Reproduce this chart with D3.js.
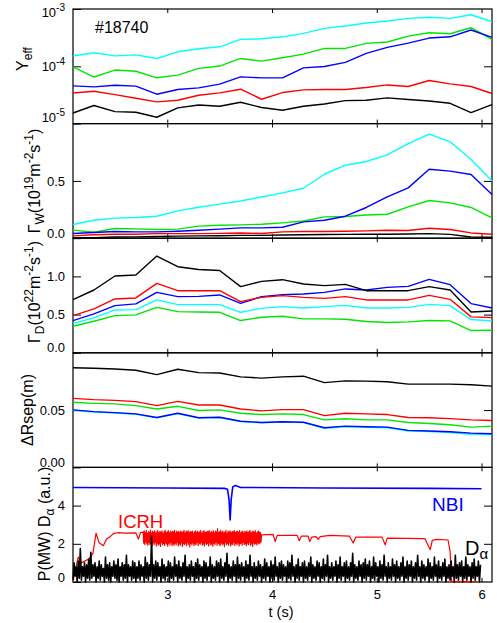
<!DOCTYPE html>
<html>
<head>
<meta charset="utf-8">
<script src="https://cdn.jsdelivr.net/npm/d3@7"></script>
<style>
  body { margin: 0; background: #fff; }
  text { font-family: "Liberation Sans", Arial, Helvetica, sans-serif; }
</style>
</head>
<body>
<div id="chart"></div>
<script>
// sample times for the profile quantities (s)
var times = [2.1, 2.3, 2.5, 2.7, 2.9, 3.1, 3.3, 3.5, 3.7, 3.9, 4.1, 4.3, 4.5, 4.7, 4.9, 5.1, 5.3, 5.5, 5.7, 5.9, 6.1];

// Y_eff
var yeffCyan  = [1.51e-4, 1.72e-4, 1.52e-4, 1.58e-4, 1.37e-4, 1.79e-4, 2.02e-4, 2.19e-4, 2.95e-4, 3.02e-4, 3.27e-4, 3.76e-4, 4.59e-4, 5.05e-4, 5.69e-4, 6.17e-4, 6.87e-4, 7.16e-4, 6.87e-4, 7.94e-4, 6.0e-4];
var yeffGreen = [9.8e-5, 6.5e-5, 8.6e-5, 8.2e-5, 6.3e-5, 7.0e-5, 9.2e-5, 1.01e-4, 1.37e-4, 1.23e-4, 1.41e-4, 1.63e-4, 2.05e-4, 2.05e-4, 2.51e-4, 2.65e-4, 3.37e-4, 3.85e-4, 3.70e-4, 4.71e-4, 2.95e-4];
var yeffBlue  = [4.55e-5, 4.37e-5, 4.68e-5, 4.5e-5, 3.26e-5, 3.94e-5, 4.2e-5, 4.88e-5, 6.53e-5, 6.28e-5, 6.28e-5, 9.4e-5, 9.9e-5, 1.17e-4, 1.68e-4, 2.14e-4, 2.54e-4, 3.11e-4, 3.27e-4, 4.30e-4, 3.2e-4];
var yeffRed   = [3.43e-5, 3.67e-5, 3.21e-5, 2.77e-5, 2.39e-5, 2.56e-5, 3.13e-5, 3.43e-5, 3.98e-5, 2.66e-5, 3.48e-5, 3.87e-5, 3.94e-5, 3.94e-5, 4.27e-5, 4.73e-5, 4.44e-5, 5.65e-5, 4.93e-5, 4.44e-5, 3.35e-5];
var yeffBlack = [1.53e-5, 2.07e-5, 1.62e-5, 1.58e-5, 1.29e-5, 1.88e-5, 2.11e-5, 2.01e-5, 2.36e-5, 1.91e-5, 1.71e-5, 2.01e-5, 2.2e-5, 2.52e-5, 2.56e-5, 2.81e-5, 2.63e-5, 2.48e-5, 2.26e-5, 1.56e-5, 2.15e-5];

// Gamma_W (1e19 m-2 s-1)
var gwCyan  = [0.12, 0.157, 0.175, 0.181, 0.192, 0.238, 0.27, 0.297, 0.325, 0.36, 0.395, 0.436, 0.558, 0.637, 0.669, 0.727, 0.826, 0.908, 0.841, 0.687, 0.5];
var gwGreen = [0.07, 0.052, 0.085, 0.081, 0.076, 0.079, 0.105, 0.113, 0.116, 0.122, 0.134, 0.15, 0.186, 0.189, 0.203, 0.209, 0.273, 0.329, 0.308, 0.268, 0.177];
var gwBlue  = [0.041, 0.05, 0.058, 0.055, 0.055, 0.061, 0.07, 0.079, 0.09, 0.09, 0.096, 0.142, 0.157, 0.192, 0.268, 0.36, 0.439, 0.602, 0.585, 0.556, 0.381];
var gwRed   = [0.02, 0.03, 0.035, 0.035, 0.04, 0.04, 0.04, 0.042, 0.046, 0.041, 0.055, 0.058, 0.058, 0.061, 0.064, 0.07, 0.067, 0.087, 0.076, 0.046, 0.035];
var gwBlack = [0.005, 0.005, 0.01, 0.012, 0.015, 0.018, 0.02, 0.022, 0.025, 0.025, 0.028, 0.03, 0.032, 0.033, 0.035, 0.035, 0.037, 0.04, 0.033, 0.01, 0.008];

// Gamma_D (1e22 m-2 s-1)
var gdBlack = [0.696, 0.822, 1.005, 1.018, 1.266, 1.127, 1.091, 1.078, 0.866, 0.935, 0.957, 0.901, 0.879, 0.896, 0.813, 0.813, 0.813, 0.866, 0.822, 0.535, 0.548];
var gdRed   = [0.487, 0.574, 0.705, 0.718, 0.909, 0.813, 0.813, 0.813, 0.67, 0.726, 0.748, 0.726, 0.713, 0.735, 0.692, 0.692, 0.692, 0.752, 0.7, 0.47, 0.461];
var gdBlue  = [0.422, 0.509, 0.617, 0.64, 0.791, 0.735, 0.739, 0.757, 0.648, 0.735, 0.761, 0.77, 0.791, 0.836, 0.822, 0.856, 0.869, 0.961, 0.892, 0.644, 0.587];
var gdCyan  = [0.386, 0.457, 0.561, 0.565, 0.692, 0.631, 0.631, 0.631, 0.53, 0.582, 0.604, 0.587, 0.604, 0.621, 0.587, 0.587, 0.595, 0.634, 0.617, 0.435, 0.418];
var gdGreen = [0.347, 0.413, 0.487, 0.496, 0.595, 0.539, 0.535, 0.53, 0.422, 0.465, 0.478, 0.444, 0.444, 0.439, 0.409, 0.396, 0.405, 0.422, 0.418, 0.291, 0.295];

// Delta R_sep (m)
var drBlack = [0.087, 0.0865, 0.0859, 0.0848, 0.081, 0.0856, 0.0827, 0.0824, 0.079, 0.0779, 0.079, 0.0796, 0.074, 0.0755, 0.0753, 0.0747, 0.0727, 0.0727, 0.0727, 0.0721, 0.0709];
var drRed   = [0.0602, 0.0591, 0.0585, 0.0574, 0.0539, 0.0576, 0.0545, 0.0545, 0.051, 0.0493, 0.0504, 0.0504, 0.0452, 0.0472, 0.0467, 0.0461, 0.0435, 0.0433, 0.0426, 0.0415, 0.0409];
var drGreen = [0.0568, 0.0559, 0.0554, 0.0539, 0.051, 0.0533, 0.0496, 0.0502, 0.0472, 0.0461, 0.0467, 0.0461, 0.0415, 0.0424, 0.0415, 0.0415, 0.0392, 0.0383, 0.0372, 0.0351, 0.036];
var drCyan  = [0.0499, 0.0484, 0.0475, 0.0464, 0.0432, 0.0469, 0.043, 0.0435, 0.04, 0.0389, 0.0395, 0.0391, 0.0341, 0.0355, 0.035, 0.0346, 0.0318, 0.0312, 0.0305, 0.0289, 0.0287];
var drBlue  = [0.0502, 0.0487, 0.0478, 0.0467, 0.0435, 0.0472, 0.0433, 0.0438, 0.0403, 0.0392, 0.0398, 0.0394, 0.0346, 0.036, 0.0355, 0.0351, 0.0323, 0.0317, 0.0311, 0.0299, 0.0294];

// NBI power (MW)
var nbiT = [2.1, 3.0, 3.55, 3.575, 3.59, 3.6, 3.61, 3.625, 3.65, 3.7, 4.5, 5.5, 6.0];
var nbiP = [4.95, 4.92, 4.9, 4.85, 4.3, 3.25, 4.3, 4.98, 5.05, 4.95, 4.92, 4.9, 4.88];

// ICRH power (MW): ramp-up, noisy part (0.005 s steps from 2.77 s), flat top
var icrhT1 = [2.1, 2.11, 2.135, 2.15, 2.18, 2.25, 2.29, 2.32, 2.35, 2.39, 2.42, 2.45, 2.49, 2.53, 2.6, 2.7, 2.725, 2.745, 2.765];
var icrhP1 = [0.0, 0.3, 0.95, 1.3, 1.0, 1.2, 1.5, 2.55, 2.05, 1.9, 2.25, 2.35, 2.55, 2.58, 2.56, 2.57, 2.25, 2.6, 2.6];
var icrhNoise = [
  2.62, 2.03, 2.68, 1.96, 2.58, 2.1, 2.7, 1.99, 2.55, 1.92, 2.64, 2.07, 2.6, 1.97, 2.72, 2.01, 2.57, 1.9, 2.66, 2.05,
  2.6, 1.95, 2.69, 2.09, 2.56, 1.88, 2.63, 2.03, 2.7, 1.93, 2.59, 2.0, 2.65, 1.86, 2.61, 2.07, 2.68, 1.96, 2.55, 2.02,
  2.64, 1.91, 2.71, 2.05, 2.58, 1.98, 2.62, 1.87, 2.69, 2.04, 2.57, 1.94, 2.66, 2.09, 2.6, 1.9, 2.67, 2.0, 2.63, 1.92,
  2.7, 2.03, 2.56, 1.95, 2.66, 2.07, 2.61, 1.89, 2.65, 1.99, 2.58, 1.93, 2.68, 2.06, 2.6, 1.86, 2.64, 2.01, 2.7, 1.96,
  2.57, 2.04, 2.66, 1.9, 2.62, 2.08, 2.69, 1.97, 2.59, 1.84, 2.65, 2.02, 2.61, 1.94, 2.67, 2.05, 2.56, 1.9, 2.63, 1.99,
  2.68, 1.95, 2.6, 2.07, 2.66, 1.91, 2.58, 2.03, 2.62, 1.98, 2.7, 2.09, 2.55, 1.93, 2.64, 2.0, 2.69, 1.88, 2.61, 2.05,
  2.59, 1.97, 2.67, 2.02, 2.63, 1.89, 2.71, 2.06, 2.57, 1.94, 2.65, 2.0, 2.6, 1.87, 2.68, 2.04, 2.56, 1.96, 2.66, 2.08,
  2.62, 1.92, 2.79, 2.03, 2.58, 1.98, 2.64, 1.9, 2.69, 2.05, 2.6, 1.95, 2.66, 2.01, 2.57, 1.85, 2.63, 2.07, 2.7, 1.97,
  2.55, 2.02, 2.67, 1.93, 2.61, 2.06, 2.68, 1.89, 2.59, 2.0, 2.65, 1.96, 2.62, 2.08, 2.7, 1.91, 2.58, 2.03, 2.64, 1.95,
  2.66, 2.05, 2.6, 1.88, 2.69, 1.99, 2.57, 2.04, 2.63, 1.93, 2.67, 2.07, 2.56, 1.97, 2.65, 2.01, 2.61, 1.9, 2.68, 2.03,
  2.59, 1.95, 2.64, 2.08, 2.7, 1.92, 2.58, 2.0, 2.62, 1.86, 2.66, 2.05, 2.6, 1.98, 2.69, 2.02, 2.55, 1.94, 2.63, 2.06,
  2.67, 1.99, 2.61, 2.04, 2.58, 2.1];
var icrhT2 = [3.9, 4.01, 4.03, 4.05, 4.24, 4.26, 4.28, 4.345, 4.36, 4.38, 4.42, 4.44, 4.46, 4.55, 4.74, 4.775, 4.8, 5.05, 5.08, 5.1, 5.46, 5.51, 5.53, 5.57, 5.68, 5.70, 5.715, 5.95];
var icrhP2 = [2.47, 2.49, 2.12, 2.44, 2.44, 2.16, 2.4, 2.4, 2.12, 2.35, 2.38, 2.23, 2.38, 2.44, 2.4, 2.04, 2.35, 2.35, 1.95, 2.3, 2.27, 1.69, 2.18, 2.23, 2.2, 1.6, 0.02, 0.02];

// D-alpha (a.u.), 0.01 s steps from 2.10 s
var dalpha = [
  0.1, 1.0, 0.3, 0.8, 0, 1.1, 0.2, 1.75, 0.1, 0.8, 0.3, 1.0, 0, 0.9, 0.2, 1.2, 0.1, 1.55, 0.2, 0.9,
  0.3, 1.0, 0, 0.8, 0.2, 1.1, 0.1, 0.9, 0.3, 0.7, 0, 1.3, 0.2, 0.9, 0.1, 1.0, 0, 0.8, 0.3, 1.1,
  0.2, 0.9, 0.1, 1.2, 0, 0.8, 0.3, 1.0, 0.1, 0.9, 0.2, 1.4, 0, 0.9, 0.3, 0.8, 0.1, 1.1, 0.2, 1.0,
  0, 0.8, 0.2, 1.1, 0.1, 0.9, 0.3, 0.8, 0, 1.3, 0.2, 1.0, 0.1, 0.9, 0.3, 2.4, 0, 0.9, 0.2, 1.1,
  0.1, 1.0, 0.3, 0.8, 0, 1.2, 0.2, 0.9, 0.1, 0.8, 0.3, 1.1, 0, 1.0, 0.2, 0.8, 0.1, 1.3, 0.3, 0.9,
  0, 1.1, 0.2, 0.8, 0.1, 1.0, 0.3, 1.4, 0, 0.8, 0.2, 0.9, 0.1, 1.1, 0.3, 0.8, 0, 1.0, 0.2, 1.2,
  0.1, 0.9, 0.3, 0.8, 0, 1.1, 0.2, 1.0, 0.1, 0.8, 0.3, 1.3, 0, 0.9, 0.2, 0.8, 0.1, 1.1, 0.3, 1.0,
  0, 1.2, 0.2, 0.8, 0.1, 1.0, 0.3, 1.5, 0, 0.9, 0.2, 0.8, 0.1, 1.1, 0.3, 0.9, 0, 1.3, 0.2, 0.9,
  0.1, 1.0, 0.3, 0.8, 0, 1.1, 0.2, 0.9, 0.1, 1.4, 0.3, 0.8, 0, 1.0, 0.2, 0.8, 0.1, 1.1, 0.3, 0.9,
  0, 0.8, 0.2, 1.2, 0.1, 1.0, 0.3, 0.8, 0, 1.1, 0.2, 0.9, 0.1, 1.3, 0.3, 0.8, 0, 1.0, 0.2, 1.1,
  0.1, 0.9, 0.3, 0.8, 0, 1.1, 0.2, 1.0, 0.1, 1.4, 0.3, 0.8, 0, 0.9, 0.2, 1.2, 0.1, 0.8, 0.3, 1.0,
  0, 1.1, 0.2, 0.8, 0.1, 1.0, 0.3, 1.3, 0, 0.9, 0.2, 0.8, 0.1, 1.1, 0.3, 1.0, 0, 0.8, 0.2, 1.2,
  0.1, 0.9, 0.3, 1.4, 0, 0.8, 0.2, 1.0, 0.1, 0.8, 0.3, 1.1, 0, 0.9, 0.2, 1.3, 0.1, 0.8, 0.3, 1.0,
  0, 1.1, 0.2, 0.8, 0.1, 1.0, 0.3, 1.5, 0, 0.9, 0.2, 0.8, 0.1, 1.1, 0.3, 0.9, 0, 1.0, 0.2, 1.2,
  0.1, 0.9, 0.3, 1.1, 0, 0.8, 0.2, 1.3, 0.1, 1.0, 0.3, 0.8, 0, 1.1, 0.2, 0.9, 0.1, 1.4, 0.3, 0.8,
  0, 1.0, 0.2, 0.8, 0.1, 1.2, 0.3, 0.9, 0, 1.1, 0.2, 0.8, 0.1, 1.0, 0.3, 1.3, 0, 0.8, 0.2, 1.1,
  0.1, 0.9, 0.3, 1.1, 0, 0.8, 0.2, 1.0, 0.1, 1.4, 0.3, 0.8, 0, 1.1, 0.2, 0.9, 0.1, 0.8, 0.3, 1.2,
  0, 1.0, 0.2, 0.8, 0.1, 1.3, 0.3, 0.9, 0, 1.1, 0.2, 0.8, 0.1, 1.0, 0.3, 1.2, 0, 0.8, 0.2, 0.9,
  0.1, 1.1, 0.3, 0.8, 0, 1.4, 0.2, 0.9, 0.1, 1.0, 0.3, 1.1, 0, 0.8, 0.2, 1.3, 0.1, 0.9, 0.3, 0.8,
  0, 1.0, 0.2, 1.2, 0.1, 0.8, 0.3, 1.1, 0, 0.9];

var colors = { cyan: "#00ffff", green: "#00e600", blue: "#0000ff", red: "#ff0000", black: "#000000" };

var svgWidth = 497, svgHeight = 623;
var left = 73, right = 492;
var panelTop = [9, 123.6, 238.2, 352.8, 467.4];
var panelH = 114.6;

var svg = d3.select("#chart").append("svg")
  .attr("width", svgWidth)
  .attr("height", svgHeight);

var x = d3.scaleLinear().domain([2.1, 6.1]).range([left, right]);

function zip(ts, vs) {
  return vs.map(function(v, i) { return { t: ts[i], v: v }; });
}

// draws the frame, ticks and tick labels of one panel
function drawPanel(i, y, ticks, labelTicks, fmt) {
  var top = panelTop[i], bottom = top + panelH;
  var g = svg.append("g");

  var leftAxis = g.append("g")
    .attr("class", "yleft")
    .attr("transform", "translate(" + left + ",0)")
    .call(d3.axisLeft(y).tickValues(labelTicks).tickSize(-8).tickPadding(8).tickFormat(fmt));
  leftAxis.select(".domain").remove();
  leftAxis.selectAll("text").attr("font-size", "13px").attr("fill", "#000")
    .attr("font-family", "Liberation Sans, Arial, sans-serif");
  // keep the end labels inside the panel
  leftAxis.selectAll(".tick text").attr("transform", function(d) {
    var py = y(d);
    if (Math.abs(py - bottom) < 1) return "translate(0,-5)";
    if (Math.abs(py - top) < 1) return "translate(0,3.5)";
    return null;
  });

  var rightAxis = g.append("g")
    .attr("transform", "translate(" + right + ",0)")
    .call(d3.axisRight(y).tickValues(ticks).tickSize(-8).tickFormat(""));
  rightAxis.select(".domain").remove();

  var topAxis = g.append("g")
    .attr("transform", "translate(0," + top + ")")
    .call(d3.axisTop(x).tickValues([3, 4, 5, 6]).tickSize(-4).tickFormat(""));
  topAxis.select(".domain").remove();

  var bottomAxis = g.append("g")
    .attr("transform", "translate(0," + bottom + ")")
    .call(d3.axisBottom(x).tickValues([3, 4, 5, 6]).tickSize(-4).tickPadding(8)
      .tickFormat(i === 4 ? d3.format("d") : ""));
  bottomAxis.select(".domain").remove();
  bottomAxis.selectAll("text").attr("font-size", "13px").attr("fill", "#000")
    .attr("font-family", "Liberation Sans, Arial, sans-serif");

  g.selectAll(".tick line").attr("stroke", "#000").attr("stroke-width", 1);

  g.append("rect")
    .attr("x", left).attr("y", top)
    .attr("width", right - left).attr("height", panelH)
    .attr("fill", "none").attr("stroke", "#000").attr("stroke-width", 1.2);
  return g;
}

function drawLine(y, pts, color, width) {
  var line = d3.line().x(function(d) { return x(d.t); }).y(function(d) { return y(d.v); });
  svg.append("path")
    .datum(pts)
    .attr("d", line)
    .attr("fill", "none")
    .attr("stroke", color)
    .attr("stroke-width", width || 1.4)
    .attr("stroke-linejoin", "round");
}

// rotated axis title built from pieces: [text, "sub"|"sup"|null]
function yTitle(cx, cy, parts) {
  var t = svg.append("text")
    .attr("transform", "translate(" + cx + "," + cy + ") rotate(-90)")
    .attr("text-anchor", "middle")
    .attr("font-size", "16px")
    .attr("fill", "#000");
  var shift = 0;
  parts.forEach(function(p) {
    var target = p[1] === "sub" ? 4 : p[1] === "sup" ? -7 : 0;
    t.append("tspan")
      .attr("dy", target - shift)
      .attr("font-size", p[1] ? "12px" : "16px")
      .text(p[0]);
    shift = target;
  });
  return t;
}

// panel 1: Y_eff (log)
var y1 = d3.scaleLog().domain([1e-5, 1e-3]).range([panelTop[0] + panelH, panelTop[0]]);
var p1 = drawPanel(0, y1, [1e-4], [1e-5, 1e-4, 1e-3], function() { return ""; });
p1.select(".yleft").selectAll(".tick text").each(function(d) {
  var el = d3.select(this);
  el.append("tspan").text("10");
  el.append("tspan").attr("dy", -6).attr("font-size", "10px").text("-" + Math.round(-Math.log10(d)));
});
// the 10^-5 label sits a bit higher in the original
p1.select(".yleft").selectAll(".tick text").attr("transform", function(d) {
  if (d === 1e-5) return "translate(0,-6)";
  if (d === 1e-3) return "translate(0,3.5)";
  return null;
});
[["cyan", yeffCyan], ["green", yeffGreen], ["blue", yeffBlue], ["red", yeffRed], ["black", yeffBlack]]
  .forEach(function(s) { drawLine(y1, zip(times, s[1]), colors[s[0]]); });

// panel 2: Gamma_W
var y2 = d3.scaleLinear().domain([0, 1.0]).range([panelTop[1] + panelH, panelTop[1]]);
drawPanel(1, y2, [0.5], [0, 0.5], d3.format(".1f"));
[["cyan", gwCyan], ["green", gwGreen], ["blue", gwBlue], ["red", gwRed], ["black", gwBlack]]
  .forEach(function(s) { drawLine(y2, zip(times, s[1]), colors[s[0]]); });

// panel 3: Gamma_D
var y3 = d3.scaleLinear().domain([0, 1.5]).range([panelTop[2] + panelH, panelTop[2]]);
drawPanel(2, y3, [0.5, 1.0], [0, 0.5, 1.0], d3.format(".1f"));
[["green", gdGreen], ["cyan", gdCyan], ["blue", gdBlue], ["red", gdRed], ["black", gdBlack]]
  .forEach(function(s) { drawLine(y3, zip(times, s[1]), colors[s[0]]); });

// panel 4: Delta R_sep
var y4 = d3.scaleLinear().domain([0, 0.1]).range([panelTop[3] + panelH, panelTop[3]]);
drawPanel(3, y4, [0.05], [0, 0.05], d3.format(".2f"));
[["black", drBlack], ["red", drRed], ["green", drGreen], ["cyan", drCyan], ["blue", drBlue]]
  .forEach(function(s) { drawLine(y4, zip(times, s[1]), colors[s[0]]); });

// panel 5: heating power and D-alpha
var y5 = d3.scaleLinear().domain([0, 6]).range([panelTop[4] + panelH, panelTop[4]]);
drawPanel(4, y5, [2, 4], [0, 2, 4], d3.format("d"));

var icrhPts = zip(icrhT1, icrhP1)
  .concat(icrhNoise.map(function(v, i) { return { t: 2.77 + i * 0.005, v: v }; }))
  .concat(zip(icrhT2, icrhP2));
drawLine(y5, icrhPts, colors.red, 1.2);
drawLine(y5, zip(nbiT, nbiP), colors.blue, 1.6);
drawLine(y5, dalpha.map(function(v, i) { return { t: 2.1 + i * 0.01, v: v }; }), colors.black, 1.6);

// axis titles
yTitle(28, 59, [["Y", null], ["eff", "sub"]]);
yTitle(40, 181, [["\u0393", null], ["W", "sub"], ["(10", null], ["19", "sup"], ["m", null], ["-2", "sup"], ["s", null], ["-1", "sup"], [")", null]]);
yTitle(40, 292, [["\u0393", null], ["D", "sub"], ["(10", null], ["22", "sup"], ["m", null], ["-2", "sup"], ["s", null], ["-1", "sup"], [")", null]]);
yTitle(33, 410, [["\u0394Rsep(m)", null]]);
yTitle(50, 524, [["P(MW) D", null], ["\u03b1", "sub"], [" (a.u.)", null]]);

svg.append("text")
  .attr("x", 281).attr("y", 617)
  .attr("text-anchor", "middle")
  .attr("font-size", "14.5px")
  .text("t (s)");

// annotations
svg.append("text").attr("x", 95).attr("y", 33).attr("font-size", "16px").text("#18740");
svg.append("text").attr("x", 118).attr("y", 528).attr("font-size", "18.5px").attr("fill", colors.red).text("ICRH");
svg.append("text").attr("x", 432).attr("y", 511).attr("font-size", "19px").attr("fill", colors.blue).text("NBI");
var da = svg.append("text").attr("x", 465).attr("y", 555).attr("font-size", "20px").attr("fill", "#000");
da.append("tspan").text("D");
da.append("tspan").attr("dy", 4).attr("font-size", "15px").text("\u03b1");
</script>
</body>
</html>
